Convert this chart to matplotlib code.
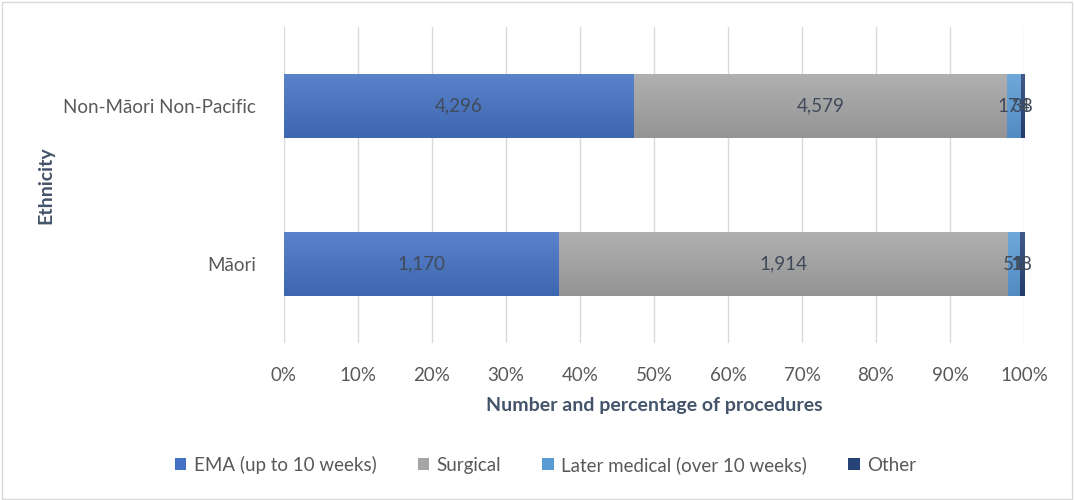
import numpy as np
import matplotlib.pyplot as plt
from matplotlib.patches import Rectangle
from matplotlib.colors import to_rgb

plt.rcParams['font.family'] = ['Lato', 'DejaVu Sans']

# du lieu doc tu hinh
ethnicity = ["Māori", "Non-Māori Non-Pacific"]
series = ["EMA (up to 10 weeks)", "Surgical", "Later medical (over 10 weeks)", "Other"]
ema = [1170, 4296]
surgical = [1914, 4579]
later_medical = [51, 174]
other = [18, 38]
colors = ["#4472c4", "#a5a5a5", "#5b9bd5", "#264478"]

counts = np.array([ema, surgical, later_medical, other], dtype=float)
totals = counts.sum(axis=0)
pct = counts / totals * 100

fig = plt.figure(figsize=(10.74, 5), dpi=100)
fig.patches.append(Rectangle((0.002, 0.003), 0.996, 0.994, transform=fig.transFigure,
                             fill=False, edgecolor="#d9d9d9", linewidth=1))
ax = fig.add_axes([0.2644, 0.314, 0.689, 0.632])


def gradient(c):
    # mau sang o tren, dam o duoi
    base = np.array(to_rgb(c))
    top = base + (1 - base) * 0.12
    bot = base * 0.9
    t = np.linspace(0, 1, 50)[:, None]
    return (top * (1 - t) + bot * t)[:, None, :]


y = np.arange(len(ethnicity))
left = np.zeros(len(ethnicity))
for i in range(len(series)):
    bars = ax.barh(y, pct[i], left=left, height=0.4, color=colors[i], label=series[i], zorder=2)
    for b in bars:
        x0, y0 = b.get_x(), b.get_y()
        im = ax.imshow(gradient(colors[i]), extent=[x0, x0 + b.get_width(), y0, y0 + b.get_height()],
                       origin="upper", aspect="auto", zorder=2.1)
        im.set_clip_path(b)
    for j in range(len(ethnicity)):
        ax.text(left[j] + pct[i][j] / 2, y[j], f"{int(counts[i][j]):,}",
                ha="center", va="center", fontsize=13.5, color="#404a5a", zorder=3)
    left = left + pct[i]

ax.set_xlim(0, 100)
ax.set_ylim(-0.5, 1.5)
ax.set_xticks(np.arange(0, 101, 10))
ax.set_xticklabels([f"{t}%" for t in range(0, 101, 10)])
ax.set_yticks(y)
ax.set_yticklabels(ethnicity)
ax.tick_params(axis="both", length=0, labelsize=13.5, labelcolor="#595959")
ax.tick_params(axis="x", pad=17)
ax.tick_params(axis="y", pad=20)
ax.grid(axis="x", color="#d9d9d9", linewidth=1, zorder=0)
for s in ax.spines.values():
    s.set_visible(False)

fig.text(0.609, 0.19, "Number and percentage of procedures", ha="center", va="center",
         fontsize=14, fontweight="bold", color="#44546a")
fig.text(0.043, 0.63, "Ethnicity", ha="center", va="center", rotation=90,
         fontsize=14, fontweight="bold", color="#44546a")

fig.legend(loc="center", bbox_to_anchor=(0.508, 0.07), ncol=4, frameon=False,
           fontsize=13.5, handlelength=0.6, handleheight=0.6, handletextpad=0.4,
           columnspacing=2.2, labelcolor="#595959")

fig.savefig("out.png", dpi=100, facecolor="white")
